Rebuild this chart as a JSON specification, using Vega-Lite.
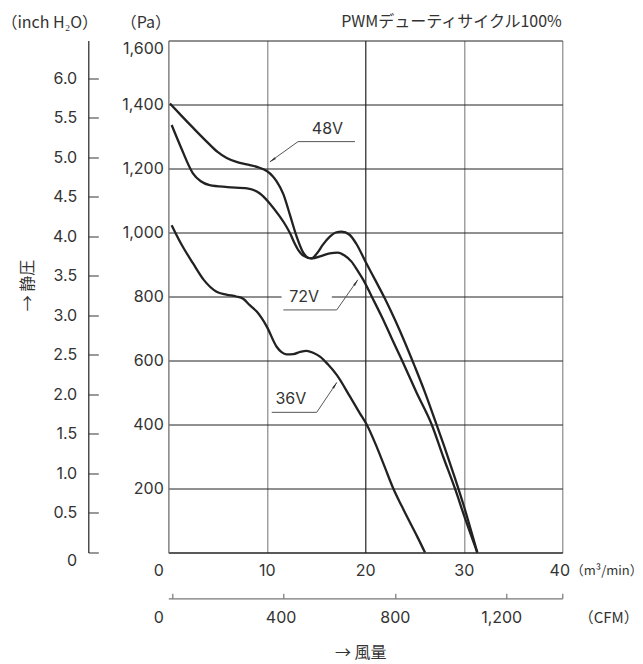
{
  "$schema": "https://vega.github.io/schema/vega-lite/v6.json",
  "width": 394,
  "height": 512,
  "autosize": {"type": "none"},
  "padding": {"left": 168.3, "top": 40.5, "right": 80.4, "bottom": 111.2},
  "background": "white",
  "config": {
    "view": {"stroke": null},
    "font": "Inter",
    "axis": {"labelFont": "Inter", "labelFontSize": 16, "labelColor": "#333", "titleFont": "Noto Sans CJK JP", "titleFontWeight": "normal", "titleColor": "#333", "labelFlush": false}
  },
  "datasets": {
    "curves": [
      {"series": "48V", "q": 0.17, "p": 1403}, {"series": "48V", "q": 1.3, "p": 1366}, {"series": "48V", "q": 2.55, "p": 1326},
      {"series": "48V", "q": 4, "p": 1281}, {"series": "48V", "q": 5, "p": 1252}, {"series": "48V", "q": 5.93, "p": 1233},
      {"series": "48V", "q": 7, "p": 1220}, {"series": "48V", "q": 7.96, "p": 1213}, {"series": "48V", "q": 9, "p": 1205},
      {"series": "48V", "q": 10, "p": 1192}, {"series": "48V", "q": 10.6, "p": 1176}, {"series": "48V", "q": 11.0, "p": 1160},
      {"series": "48V", "q": 11.68, "p": 1120}, {"series": "48V", "q": 12.35, "p": 1055}, {"series": "48V", "q": 13, "p": 990},
      {"series": "48V", "q": 13.7, "p": 937}, {"series": "48V", "q": 14.2, "p": 921}, {"series": "48V", "q": 14.56, "p": 919},
      {"series": "48V", "q": 15.1, "p": 935}, {"series": "48V", "q": 15.7, "p": 962}, {"series": "48V", "q": 16.4, "p": 987},
      {"series": "48V", "q": 17, "p": 1000}, {"series": "48V", "q": 17.6, "p": 1003}, {"series": "48V", "q": 18.4, "p": 993},
      {"series": "48V", "q": 19.1, "p": 964}, {"series": "48V", "q": 20, "p": 910}, {"series": "48V", "q": 21, "p": 852},
      {"series": "48V", "q": 22, "p": 793}, {"series": "48V", "q": 23, "p": 728}, {"series": "48V", "q": 24, "p": 658},
      {"series": "48V", "q": 25, "p": 583}, {"series": "48V", "q": 26, "p": 505}, {"series": "48V", "q": 27, "p": 420},
      {"series": "48V", "q": 28, "p": 333}, {"series": "48V", "q": 29, "p": 242}, {"series": "48V", "q": 30, "p": 146},
      {"series": "48V", "q": 31, "p": 40}, {"series": "48V", "q": 31.37, "p": 0},
      {"series": "72V", "q": 0.34, "p": 1336}, {"series": "72V", "q": 1.3, "p": 1265}, {"series": "72V", "q": 2.5, "p": 1185},
      {"series": "72V", "q": 3.3, "p": 1160}, {"series": "72V", "q": 4.2, "p": 1148}, {"series": "72V", "q": 6, "p": 1142},
      {"series": "72V", "q": 8, "p": 1138}, {"series": "72V", "q": 9.3, "p": 1122}, {"series": "72V", "q": 10.3, "p": 1091},
      {"series": "72V", "q": 11.2, "p": 1055}, {"series": "72V", "q": 12, "p": 1018}, {"series": "72V", "q": 12.4, "p": 995},
      {"series": "72V", "q": 12.8, "p": 968}, {"series": "72V", "q": 13.2, "p": 945}, {"series": "72V", "q": 13.7, "p": 928},
      {"series": "72V", "q": 14.56, "p": 919}, {"series": "72V", "q": 15.5, "p": 926}, {"series": "72V", "q": 16.4, "p": 935},
      {"series": "72V", "q": 17.2, "p": 937}, {"series": "72V", "q": 17.9, "p": 928}, {"series": "72V", "q": 18.6, "p": 909},
      {"series": "72V", "q": 19.2, "p": 882}, {"series": "72V", "q": 19.8, "p": 852}, {"series": "72V", "q": 20.65, "p": 800},
      {"series": "72V", "q": 21.7, "p": 735}, {"series": "72V", "q": 22.7, "p": 668}, {"series": "72V", "q": 23.7, "p": 602},
      {"series": "72V", "q": 25.2, "p": 500}, {"series": "72V", "q": 26.74, "p": 400}, {"series": "72V", "q": 27.9, "p": 300},
      {"series": "72V", "q": 29.1, "p": 200}, {"series": "72V", "q": 30.2, "p": 100}, {"series": "72V", "q": 31.37, "p": 0},
      {"series": "36V", "q": 0.34, "p": 1023}, {"series": "36V", "q": 1.3, "p": 965}, {"series": "36V", "q": 2.5, "p": 904},
      {"series": "36V", "q": 3.6, "p": 852}, {"series": "36V", "q": 4.9, "p": 815}, {"series": "36V", "q": 5.9, "p": 806},
      {"series": "36V", "q": 6.9, "p": 800}, {"series": "36V", "q": 7.6, "p": 793}, {"series": "36V", "q": 8.3, "p": 772},
      {"series": "36V", "q": 9, "p": 752}, {"series": "36V", "q": 10, "p": 706}, {"series": "36V", "q": 11, "p": 643},
      {"series": "36V", "q": 11.5, "p": 626}, {"series": "36V", "q": 12, "p": 619}, {"series": "36V", "q": 12.7, "p": 620},
      {"series": "36V", "q": 13.4, "p": 627}, {"series": "36V", "q": 14.05, "p": 630}, {"series": "36V", "q": 14.7, "p": 624},
      {"series": "36V", "q": 15.4, "p": 612}, {"series": "36V", "q": 16.2, "p": 588}, {"series": "36V", "q": 17.1, "p": 555},
      {"series": "36V", "q": 18.45, "p": 487}, {"series": "36V", "q": 19.45, "p": 435}, {"series": "36V", "q": 20.14, "p": 400},
      {"series": "36V", "q": 21.16, "p": 330}, {"series": "36V", "q": 22, "p": 265}, {"series": "36V", "q": 22.84, "p": 200},
      {"series": "36V", "q": 23.7, "p": 145}, {"series": "36V", "q": 24.5, "p": 96}, {"series": "36V", "q": 25.3, "p": 48},
      {"series": "36V", "q": 26.06, "p": 0}
    ],
    "gap": [{"q": 11.5, "q2": 16.6, "p": 785, "p2": 815}],
    "leaders": [
      {"q": 13.17, "p": 1284, "q2": 18.95, "p2": 1284},
      {"q": 13.17, "p": 1284, "q2": 10.32, "p2": 1221},
      {"q": 11.68, "p": 758, "q2": 17.1, "p2": 758},
      {"q": 17.1, "p": 758, "q2": 19.23, "p2": 852},
      {"q": 10.5, "p": 438, "q2": 15.07, "p2": 438},
      {"q": 15.07, "p": 438, "q2": 17.1, "p2": 531}
    ],
    "heads": [
      {"q": 10.66, "p": 1228, "angle": 234.5},
      {"q": 19.0, "p": 841, "angle": 35},
      {"q": 16.87, "p": 520, "angle": 34}
    ],
    "labels": [
      {"q": 16.16, "p": 1323, "text": "48V"},
      {"q": 13.8, "p": 797, "text": "72V"},
      {"q": 12.44, "p": 479, "text": "36V"}
    ],
    "inch": [{"inch": 0}, {"inch": 6.48}],
    "cfm": [{"cfm": -14.4}, {"cfm": 1401.6}],
    "blank": [{"a": 0}, {"a": 1}]
  },
  "layer": [
    {
      "layer": [
        {
          "data": {"name": "gap"},
          "mark": {"type": "rect", "fill": "white"},
          "encoding": {
            "x": {"field": "q", "type": "quantitative", "scale": {"domain": [0, 40], "nice": false, "zero": false},
              "axis": {
                "orient": "bottom", "values": [0, 10, 20, 30, 40], "grid": true,
                "gridColor": {"condition": {"test": "datum.value === 20", "value": "#222"}, "value": "#8a8a8a"},
                "gridWidth": 1.2, "ticks": false, "domainColor": "#222", "domainWidth": 1.2,
                "labelPadding": 10,
                "labelOffset": {"expr": "datum.value === 0 ? -10 : (datum.value === 40 ? -3 : 0)"},
                "title": "（m³/min）", "titleFontSize": 13, "titleAngle": 0, "titleAlign": "left", "titleBaseline": "middle",
                "titleX": 402, "titleY": 18
              }},
            "x2": {"field": "q2"},
            "y": {"field": "p", "type": "quantitative", "scale": {"domain": [0, 1600], "nice": false, "zero": false},
              "axis": {
                "orient": "left", "values": [0, 200, 400, 600, 800, 1000, 1200, 1400, 1600], "grid": true,
                "gridColor": "#222", "gridWidth": 1.2, "ticks": false, "domainColor": "#8a8a8a", "domainWidth": 1.2,
                "labelPadding": 5,
                "labelExpr": "datum.value === 0 ? '' : format(datum.value, ',')",
                "labelBaseline": {"condition": {"test": "datum.value === 1600", "value": "top"}, "value": "middle"},
                "title": "（Pa）", "titleFontSize": 16, "titleAngle": 0, "titleAlign": "center", "titleBaseline": "middle",
                "titleX": -23, "titleY": -18
              }},
            "y2": {"field": "p2"}
          }
        },
        {
          "data": {"name": "curves"},
          "mark": {"type": "line", "interpolate": "monotone", "color": "#222", "strokeWidth": 2.3},
          "encoding": {
            "x": {"field": "q", "type": "quantitative"},
            "y": {"field": "p", "type": "quantitative"},
            "detail": {"field": "series"},
            "order": {"field": "q", "type": "quantitative"}
          }
        },
        {
          "data": {"name": "leaders"},
          "mark": {"type": "rule", "color": "#555", "strokeWidth": 1},
          "encoding": {
            "x": {"field": "q", "type": "quantitative"},
            "y": {"field": "p", "type": "quantitative"},
            "x2": {"field": "q2"},
            "y2": {"field": "p2"}
          }
        },
        {
          "data": {"name": "heads"},
          "mark": {"type": "point", "shape": "wedge", "filled": true, "color": "#333", "size": 70, "opacity": 1},
          "encoding": {
            "x": {"field": "q", "type": "quantitative"},
            "y": {"field": "p", "type": "quantitative"},
            "angle": {"field": "angle", "type": "quantitative", "scale": null}
          }
        },
        {
          "data": {"name": "labels"},
          "mark": {"type": "text", "font": "Inter", "fontSize": 16, "color": "#333", "align": "center", "baseline": "middle"},
          "encoding": {
            "x": {"field": "q", "type": "quantitative"},
            "y": {"field": "p", "type": "quantitative"},
            "text": {"field": "text"}
          }
        }
      ]
    },
    {
      "data": {"name": "inch"},
      "mark": {"type": "point", "opacity": 0},
      "encoding": {
        "y": {"field": "inch", "type": "quantitative", "scale": {"domain": [0, 6.48], "nice": false, "zero": false},
          "axis": {
            "orient": "left", "offset": 80, "values": [0, 0.5, 1, 1.5, 2, 2.5, 3, 3.5, 4, 4.5, 5, 5.5, 6],
            "grid": false, "tickSize": -10, "tickColor": "#555", "tickWidth": 1.2, "domainColor": "#222", "domainWidth": 1.2,
            "labelPadding": 21.6,
            "labelExpr": "datum.value === 0 ? '0' : format(datum.value, '.1f')",
            "labelBaseline": {"condition": {"test": "datum.value === 0", "value": "top"}, "value": "middle"},
            "title": "（inch H₂O）", "titleFontSize": 16, "titleAngle": 0, "titleAlign": "center", "titleBaseline": "middle",
            "titleX": -39, "titleY": -18
          }}
      }
    },
    {
      "data": {"name": "cfm"},
      "mark": {"type": "point", "opacity": 0},
      "encoding": {
        "x": {"field": "cfm", "type": "quantitative", "scale": {"domain": [-14.4, 1401.6], "nice": false, "zero": false},
          "axis": {
            "orient": "bottom", "offset": 45.8, "values": [0, 400, 800, 1200, 1400],
            "grid": false, "tickSize": -5, "tickColor": "#777", "tickWidth": 1.2, "domainColor": "#777", "domainWidth": 1.2,
            "labelPadding": 16,
            "labelExpr": "datum.value === 1400 ? '' : format(datum.value, ',')",
            "labelOffset": {"expr": "datum.value === 0 ? -14 : (datum.value === 400 ? -3 : (datum.value === 1200 ? -5 : 0))"},
            "title": "（CFM）", "titleFontSize": 15, "titleAngle": 0, "titleAlign": "left", "titleBaseline": "middle",
            "titleX": 410, "titleY": 19
          }}
      }
    },
    {
      "data": {"name": "blank"},
      "mark": {"type": "point", "opacity": 0},
      "encoding": {
        "x": {"field": "a", "type": "quantitative",
          "axis": {"orient": "bottom", "domain": false, "ticks": false, "labels": false, "grid": false,
            "title": "→ 風量", "titleFontSize": 16, "titleColor": "#333", "titleAngle": 0, "titleAlign": "center", "titleBaseline": "middle",
            "titleX": 192, "titleY": 100}},
        "y": {"field": "a", "type": "quantitative",
          "axis": {"orient": "left", "domain": false, "ticks": false, "labels": false, "grid": false,
            "title": "→ 静圧", "titleFontSize": 16, "titleColor": "#333", "titleAngle": 270, "titleAlign": "center", "titleBaseline": "middle",
            "titleX": -141, "titleY": 244.5}}
      }
    },
    {
      "data": {"name": "blank"},
      "mark": {"type": "point", "opacity": 0},
      "encoding": {
        "x": {"field": "a", "type": "quantitative",
          "axis": {"orient": "top", "domain": false, "ticks": false, "labels": false, "grid": false,
            "title": "PWMデューティサイクル100%", "titleFontSize": 16, "titleColor": "#333", "titleAngle": 0, "titleAlign": "right", "titleBaseline": "middle",
            "titleX": 393, "titleY": -18.5}}
      }
    }
  ],
  "resolve": {"scale": {"x": "independent", "y": "independent"}}
}
